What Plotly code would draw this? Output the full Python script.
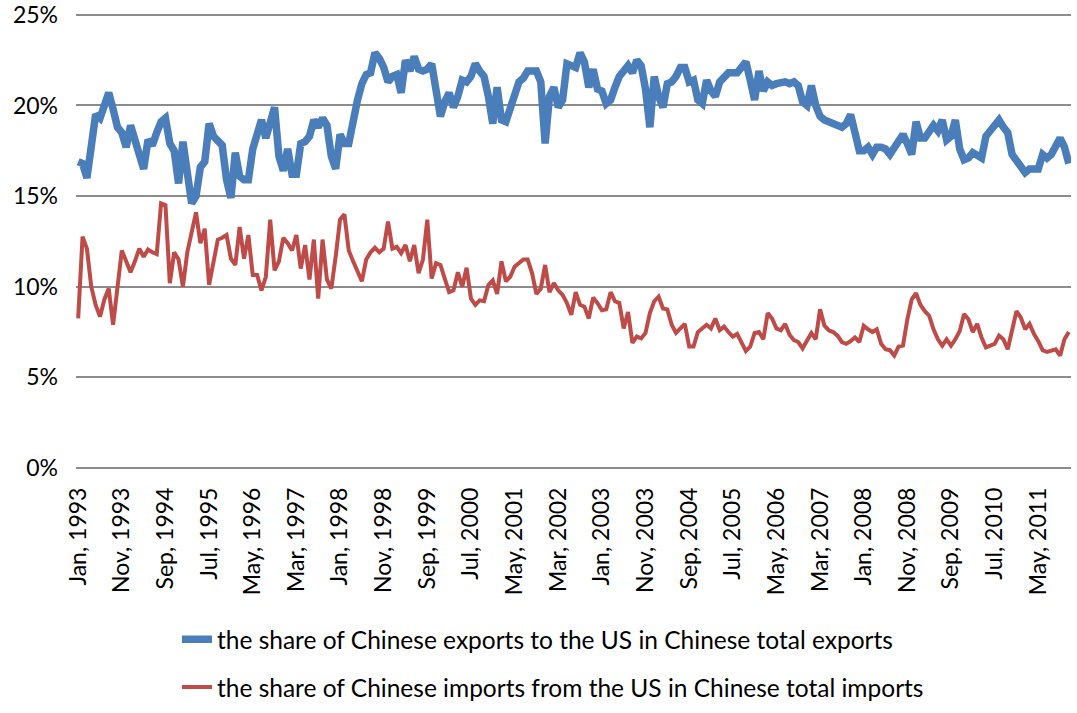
import plotly.graph_objects as go

months = ["Jan", "Feb", "Mar", "Apr", "May", "Jun", "Jul", "Aug", "Sep", "Oct", "Nov", "Dec"]
categories = [f"{m}, {y}" for y in range(1993, 2012) for m in months]

exports_share = [
    16.9, 16.8, 16.0, 17.8, 19.5, 19.3, 19.9, 20.7, 19.8, 18.8, 18.5, 17.7,
    18.9, 18.1, 17.3, 16.5, 18.1, 17.8, 18.5, 19.1, 19.3, 17.9, 17.5, 15.7,
    18.0, 15.9, 14.6, 15.0, 16.6, 16.9, 19.0, 18.3, 18.1, 17.8, 15.9, 14.9,
    17.4, 16.1, 15.9, 15.9, 17.6, 18.3, 19.2, 18.2, 19.2, 19.9, 17.2, 16.4,
    17.6, 16.2, 16.2, 17.9, 18.0, 18.3, 19.2, 18.8, 19.3, 18.9, 17.2, 16.5,
    18.4, 17.9, 17.9, 19.2, 20.3, 21.2, 21.7, 21.8, 22.9, 22.6, 22.1, 21.3,
    21.6, 21.7, 20.7, 22.5, 21.9, 22.7, 22.0, 21.9, 22.0, 22.3, 20.7, 19.4,
    20.2, 20.7, 19.9, 20.5, 21.4, 21.3, 21.6, 22.3, 21.9, 21.6, 20.5, 19.0,
    21.0, 19.2, 19.1, 19.9, 20.6, 21.3, 21.5, 21.9, 21.9, 21.9, 21.3, 17.9,
    20.5, 21.0, 19.9, 20.3, 22.3, 22.2, 22.1, 22.9, 22.4, 21.0, 22.0, 20.9,
    20.8, 20.1, 20.3, 21.0, 21.6, 21.9, 22.2, 21.8, 22.5, 22.2, 20.9, 18.8,
    21.6, 20.5, 19.9, 21.2, 21.3, 21.6, 22.1, 22.1, 21.3, 21.4, 20.3, 20.1,
    21.4, 20.8, 20.5, 21.3, 21.6, 21.8, 21.8, 21.8, 22.1, 22.4, 21.4, 20.3,
    21.9, 20.8, 21.3, 21.1, 21.2, 21.3, 21.3, 21.2, 21.3, 21.1, 20.2, 20.0,
    21.1, 20.0, 19.4, 19.2, 19.1, 19.0, 18.9, 18.8, 19.0, 19.5, 18.5, 17.5,
    17.5, 17.7, 17.3, 17.7, 17.7, 17.6, 17.3, 17.7, 18.0, 18.4, 17.9, 17.3,
    19.1, 18.2, 18.2, 18.6, 18.9, 18.6, 19.2, 18.1, 18.3, 19.2, 17.6, 17.0,
    17.1, 17.4, 17.2, 17.1, 18.3, 18.6, 18.9, 19.2, 18.8, 18.5, 17.3, 17.0,
    16.6, 16.3, 16.5, 16.5, 16.5, 17.3, 17.1, 17.3, 17.7, 18.2, 17.7, 16.8,
]

imports_share = [
    8.25, 12.76, 12.1, 10.0, 9.0, 8.35, 9.3, 9.9, 7.9, 10.2, 12.0, 11.4,
    10.8, 11.4, 12.1, 11.65, 12.05, 11.9, 11.8, 14.6, 14.5, 10.2, 11.9, 11.5,
    10.0, 11.9, 13.1, 14.1, 12.4, 13.2, 10.1, 11.4, 12.6, 12.7, 12.85, 11.55,
    11.2, 13.3, 11.55, 12.85, 10.65, 10.65, 9.8, 10.55, 13.7, 10.9, 11.4, 12.7,
    12.4, 12.0, 12.85, 11.0, 12.3, 10.4, 12.6, 9.35, 12.6, 10.4, 9.9, 11.65,
    13.7, 14.0, 12.0, 11.4, 10.8, 10.3, 11.5, 11.9, 12.15, 11.9, 12.1, 13.6,
    12.1, 12.2, 11.85, 12.3, 11.4, 12.3, 10.75, 11.5, 13.7, 10.45, 11.3, 11.2,
    10.45, 9.7, 9.8, 10.8, 10.0, 11.05, 9.35, 9.0, 9.25, 9.2, 10.1, 10.35,
    9.6, 11.4, 10.3, 10.55, 11.1, 11.3, 11.5, 11.5, 10.75, 9.6, 9.9, 11.2,
    9.7, 10.2, 9.8, 9.55, 9.1, 8.45, 9.7, 9.0, 8.9, 8.25, 9.4, 9.1,
    8.7, 8.75, 9.7, 9.2, 9.1, 7.7, 8.6, 6.9, 7.25, 7.15, 7.45, 8.55,
    9.2, 9.45, 8.8, 8.75, 7.9, 7.45, 7.7, 7.95, 6.7, 6.7, 7.5, 7.7,
    7.9, 7.7, 8.25, 7.6, 7.8, 7.5, 7.25, 7.4, 6.9, 6.45, 6.7, 7.45,
    7.5, 7.1, 8.55, 8.25, 7.7, 7.6, 7.95, 7.35, 7.05, 6.95, 6.6, 7.05,
    7.45, 7.1, 8.75, 7.85, 7.6, 7.5, 7.3, 6.95, 6.85, 7.0, 7.2, 6.95,
    7.85, 7.65, 7.5, 7.65, 6.85, 6.55, 6.5, 6.2, 6.7, 6.75, 8.2, 9.3,
    9.65, 9.0, 8.65, 8.4, 7.65, 7.1, 6.75, 7.1, 6.75, 7.1, 7.55, 8.5,
    8.2, 7.5, 7.95, 7.2, 6.65, 6.75, 6.85, 7.3, 7.1, 6.55, 7.65, 8.65,
    8.3, 7.65, 7.95, 7.4, 7.0, 6.5, 6.4, 6.5, 6.55, 6.2, 7.1, 7.5,
]

tick_step = 10
tick_idx = list(range(0, len(categories), tick_step))
tick_text = [categories[i] for i in tick_idx]

y_ticks = [0, 5, 10, 15, 20, 25]

FONT = "Lato"
x = list(range(len(categories)))

fig = go.Figure()
fig.add_trace(go.Scatter(
    x=x, y=exports_share, mode="lines",
    name="the share of Chinese exports to the US in Chinese total exports",
    line=dict(color="#4A7EBB", width=7.5),
    legendgroup="a", cliponaxis=False,
    customdata=categories, hovertemplate="%{customdata}: %{y:.1f}%<extra></extra>",
))
fig.add_trace(go.Scatter(
    x=x, y=imports_share, mode="lines",
    name="the share of Chinese imports from the US in Chinese total imports",
    line=dict(color="#BE4B48", width=4),
    legendgroup="b", cliponaxis=False,
    customdata=categories, hovertemplate="%{customdata}: %{y:.1f}%<extra></extra>",
))

fig.update_layout(
    width=1077, height=713,
    margin=dict(l=76, r=6, t=13, b=245, pad=0, autoexpand=False),
    paper_bgcolor="white", plot_bgcolor="white",
    font=dict(family=FONT, size=23, color="#000000"),
    showlegend=True,
    legend=dict(
        x=0.1015, y=-0.327, xanchor="left", yanchor="top",
        orientation="v", traceorder="grouped", tracegroupgap=13,
        font=dict(family=FONT, size=24.5, color="#000000"),
        bgcolor="rgba(0,0,0,0)",
    ),
)
fig.update_xaxes(
    range=[-0.5, len(categories) - 0.5],
    tickmode="array", tickvals=tick_idx, ticktext=tick_text,
    tickangle=-90, ticks="", showgrid=False, zeroline=False,
    showline=False, ticklabelstandoff=14, automargin=False,
    tickfont=dict(family=FONT, size=23, color="#000000"),
)
fig.update_yaxes(
    range=[0, 25.1], tickmode="array", tickvals=y_ticks,
    ticktext=[f"{v}%" for v in y_ticks],
    showgrid=True, gridcolor="#8C8C8C", gridwidth=1.6,
    zeroline=True, zerolinecolor="#8C8C8C", zerolinewidth=1.6,
    showline=False, ticks="", ticklabelstandoff=17, automargin=False,
    ticklabeloverflow="allow",
    tickfont=dict(family=FONT, size=23, color="#000000"),
)

fig.write_html(
    "out.html",
    config={"displayModeBar": False},
    post_script="document.body.style.margin='0';document.body.style.overflow='hidden';",
)
